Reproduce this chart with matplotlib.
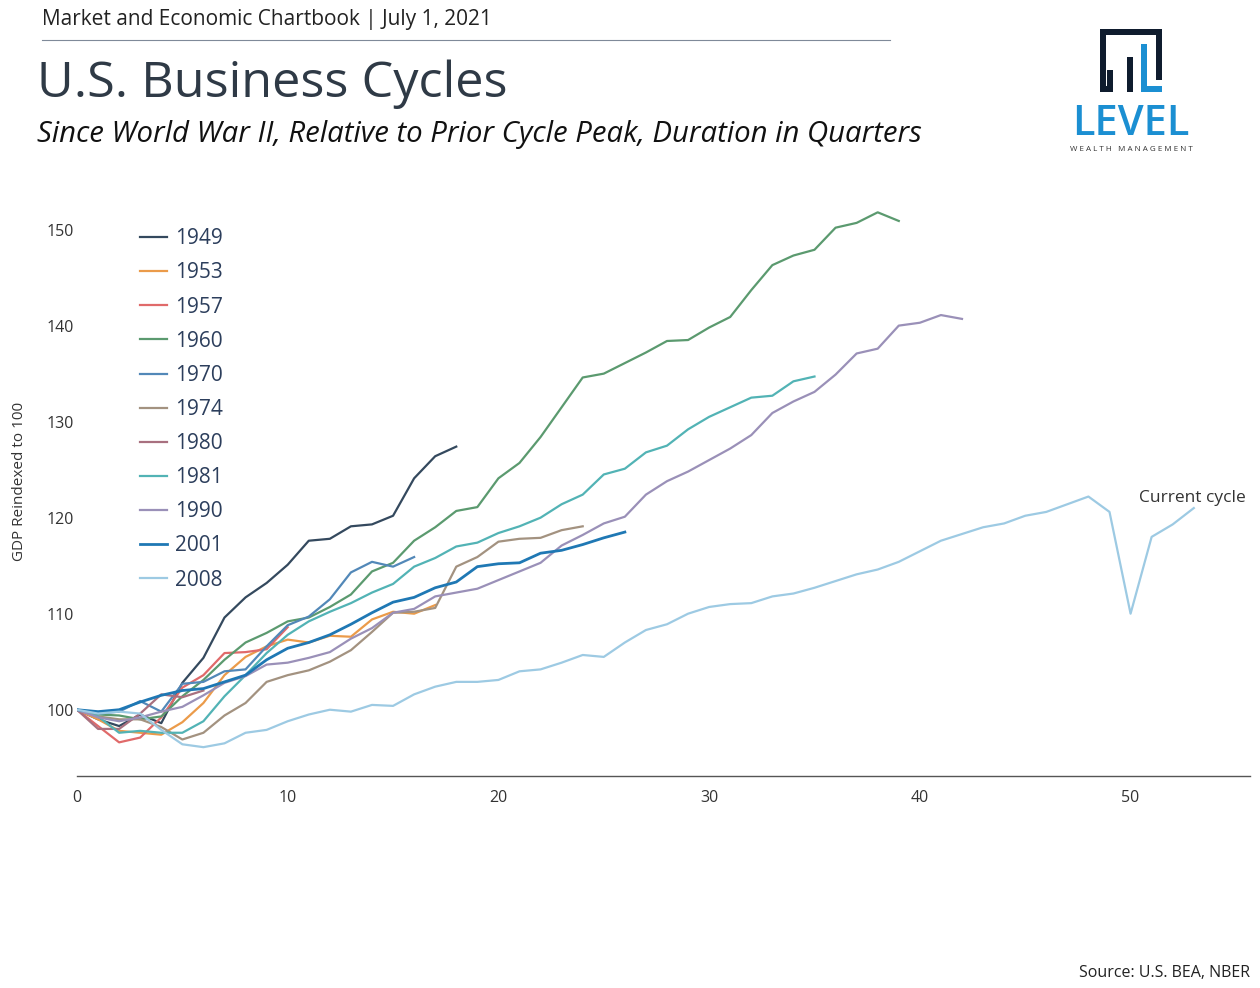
import matplotlib
matplotlib.use("Agg")
import matplotlib.pyplot as plt
from matplotlib.patches import Rectangle
from matplotlib.lines import Line2D

plt.rcParams['font.family'] = ['Open Sans', 'DejaVu Sans']

# GDP reindexed to 100 at prior cycle peak, by quarter since peak
c1949 = [100, 99.0, 98.3, 99.5, 98.6, 102.8, 105.4, 109.6, 111.7, 113.2, 115.1,
         117.6, 117.8, 119.1, 119.3, 120.2, 124.1, 126.4, 127.4]
c1953 = [100, 99.0, 97.8, 97.6, 97.4, 98.7, 100.7, 103.6, 105.5, 106.6, 107.3,
         107.0, 107.7, 107.6, 109.4, 110.2, 110.0, 110.9]
c1957 = [100, 98.3, 96.6, 97.1, 99.2, 102.3, 103.6, 105.9, 106.0, 106.3, 108.6]
c1960 = [100, 99.5, 99.4, 99.0, 99.3, 101.4, 103.1, 105.2, 107.0, 108.0, 109.2,
         109.6, 110.7, 112.0, 114.4, 115.3, 117.6, 119.0, 120.7, 121.1, 124.1,
         125.7, 128.4, 131.5, 134.6, 135.0, 136.1, 137.2, 138.4, 138.5, 139.8,
         140.9, 143.7, 146.3, 147.3, 147.9, 150.2, 150.7, 151.8, 150.9]
c1970 = [100, 99.6, 99.8, 100.9, 99.8, 102.7, 102.9, 104.0, 104.2, 106.6, 108.8,
         109.7, 111.5, 114.3, 115.4, 114.9, 115.9]
c1974 = [100, 99.3, 99.0, 99.0, 98.2, 96.9, 97.6, 99.4, 100.7, 102.9, 103.6,
         104.1, 105.0, 106.2, 108.1, 110.1, 110.2, 110.6, 114.9, 115.9, 117.5,
         117.8, 117.9, 118.7, 119.1]
c1980 = [100, 98.0, 98.0, 99.6, 101.6, 101.3, 102.0]
c1981 = [100, 99.3, 97.6, 97.8, 97.6, 97.6, 98.8, 101.4, 103.6, 105.9, 107.8,
         109.2, 110.2, 111.1, 112.2, 113.1, 114.9, 115.8, 117.0, 117.4, 118.4,
         119.1, 120.0, 121.4, 122.4, 124.5, 125.1, 126.8, 127.5, 129.2, 130.5,
         131.5, 132.5, 132.7, 134.2, 134.7]
c1990 = [100, 99.2, 98.8, 99.2, 99.8, 100.3, 101.5, 102.8, 103.5, 104.7, 104.9,
         105.4, 106.0, 107.4, 108.5, 110.1, 110.5, 111.8, 112.2, 112.6, 113.5,
         114.4, 115.3, 117.1, 118.2, 119.4, 120.1, 122.4, 123.8, 124.8, 126.0,
         127.2, 128.6, 130.9, 132.1, 133.1, 134.9, 137.1, 137.6, 140.0, 140.3,
         141.1, 140.7]
c2001 = [100, 99.8, 100.0, 100.8, 101.5, 102.0, 102.2, 102.9, 103.6, 105.2,
         106.4, 107.0, 107.8, 108.9, 110.1, 111.2, 111.7, 112.7, 113.3, 114.9,
         115.2, 115.3, 116.3, 116.6, 117.2, 117.9, 118.5]
c2008 = [100, 99.6, 99.8, 99.6, 97.9, 96.4, 96.1, 96.5, 97.6, 97.9, 98.8, 99.5,
         100.0, 99.8, 100.5, 100.4, 101.6, 102.4, 102.9, 102.9, 103.1, 104.0,
         104.2, 104.9, 105.7, 105.5, 107.0, 108.3, 108.9, 110.0, 110.7, 111.0,
         111.1, 111.8, 112.1, 112.7, 113.4, 114.1, 114.6, 115.4, 116.5, 117.6,
         118.3, 119.0, 119.4, 120.2, 120.6, 121.4, 122.2, 120.6, 110.0, 118.0,
         119.3, 121.0]

labels = ["1949", "1953", "1957", "1960", "1970", "1974", "1980", "1981",
          "1990", "2001", "2008"]
series = [c1949, c1953, c1957, c1960, c1970, c1974, c1980, c1981, c1990,
          c2001, c2008]
colors = ["#34495e", "#eb9b4a", "#e06a6a", "#5b9a6f", "#5288b8", "#a39280",
          "#a8707f", "#52b3b5", "#9a90b8", "#1f78b4", "#9dcae3"]

xticks = [0, 10, 20, 30, 40, 50]
yticks = [100, 110, 120, 130, 140, 150]

fig = plt.figure(figsize=(12.6, 9.88), dpi=100)
ax = fig.add_axes([0.0611, 0.2146, 0.931, 0.588])

for lab, vals, col in zip(labels, series, colors):
    lw = 2.0 if lab == "2001" else 1.6
    ax.plot(range(len(vals)), vals, color=col, lw=lw, label=lab)

ax.set_xlim(0, 55.67)
ax.set_ylim(93.1, 153.6)
ax.set_xticks(xticks)
ax.set_yticks(yticks)
ax.tick_params(axis='both', length=0, labelsize=11.5, colors="#333333")
ax.tick_params(axis='y', pad=2)
ax.tick_params(axis='x', pad=10)
for s in ['top', 'right', 'left']:
    ax.spines[s].set_visible(False)
ax.spines['bottom'].set_color("#555555")
ax.spines['bottom'].set_linewidth(1.0)

ax.text(50.4, 122.1, "Current cycle", fontsize=12.5, color="#333333", va='center')

leg = ax.legend(loc='upper left', bbox_to_anchor=(0.038, 0.975), frameon=False,
                fontsize=15, handlelength=1.3, handletextpad=0.35,
                labelspacing=0.63)
for t in leg.get_texts():
    t.set_color("#2c3e5c")

fig.text(0.0151, 0.513, "GDP Reindexed to 100", rotation=90, fontsize=11,
         color="#333333", ha='center', va='center')

# header
fig.text(0.033, 0.980, "Market and Economic Chartbook | July 1, 2021",
         fontsize=15, color="#222222", va='center')
fig.add_artist(Line2D([0.033, 0.706], [0.9595, 0.9595], color="#7f8a99", lw=0.8))
fig.text(0.029, 0.915, "U.S. Business Cycles", fontsize=36.3, color="#2f3a46",
         va='center')
fig.text(0.029, 0.864, "Since World War II, Relative to Prior Cycle Peak, Duration in Quarters",
         fontsize=21.2, style='italic', color="#111111", va='center')
fig.text(0.992, 0.015, "Source: U.S. BEA, NBER", fontsize=11.5, color="#222222",
         ha='right', va='center')

# logo
navy = "#0f1c2e"
blue = "#1b8fd2"
W, H = 1260.0, 988.0
def box(x0, y0, x1, y1, c):
    fig.add_artist(Rectangle((x0 / W, 1 - y1 / H), (x1 - x0) / W, (y1 - y0) / H,
                             color=c, lw=0))
box(1100, 29, 1162, 35, navy)
box(1100, 29, 1106, 92, navy)
box(1156, 29, 1162, 80, navy)
box(1100, 86, 1113, 92, navy)
box(1107, 70, 1113, 92, navy)
box(1127, 57, 1133, 92, navy)
box(1141, 44, 1147, 92, blue)
box(1141, 86, 1162, 92, blue)
fig.text(1131 / W, 1 - 135 / H, "LEVEL", fontsize=30, color=blue, ha='center',
         va='baseline', fontweight='semibold')
fig.text(1131 / W, 1 - 146 / H, "W E A L T H   M A N A G E M E N T", fontsize=5.8,
         color="#333333", ha='center', va='top')

fig.savefig("out.png", dpi=100)
